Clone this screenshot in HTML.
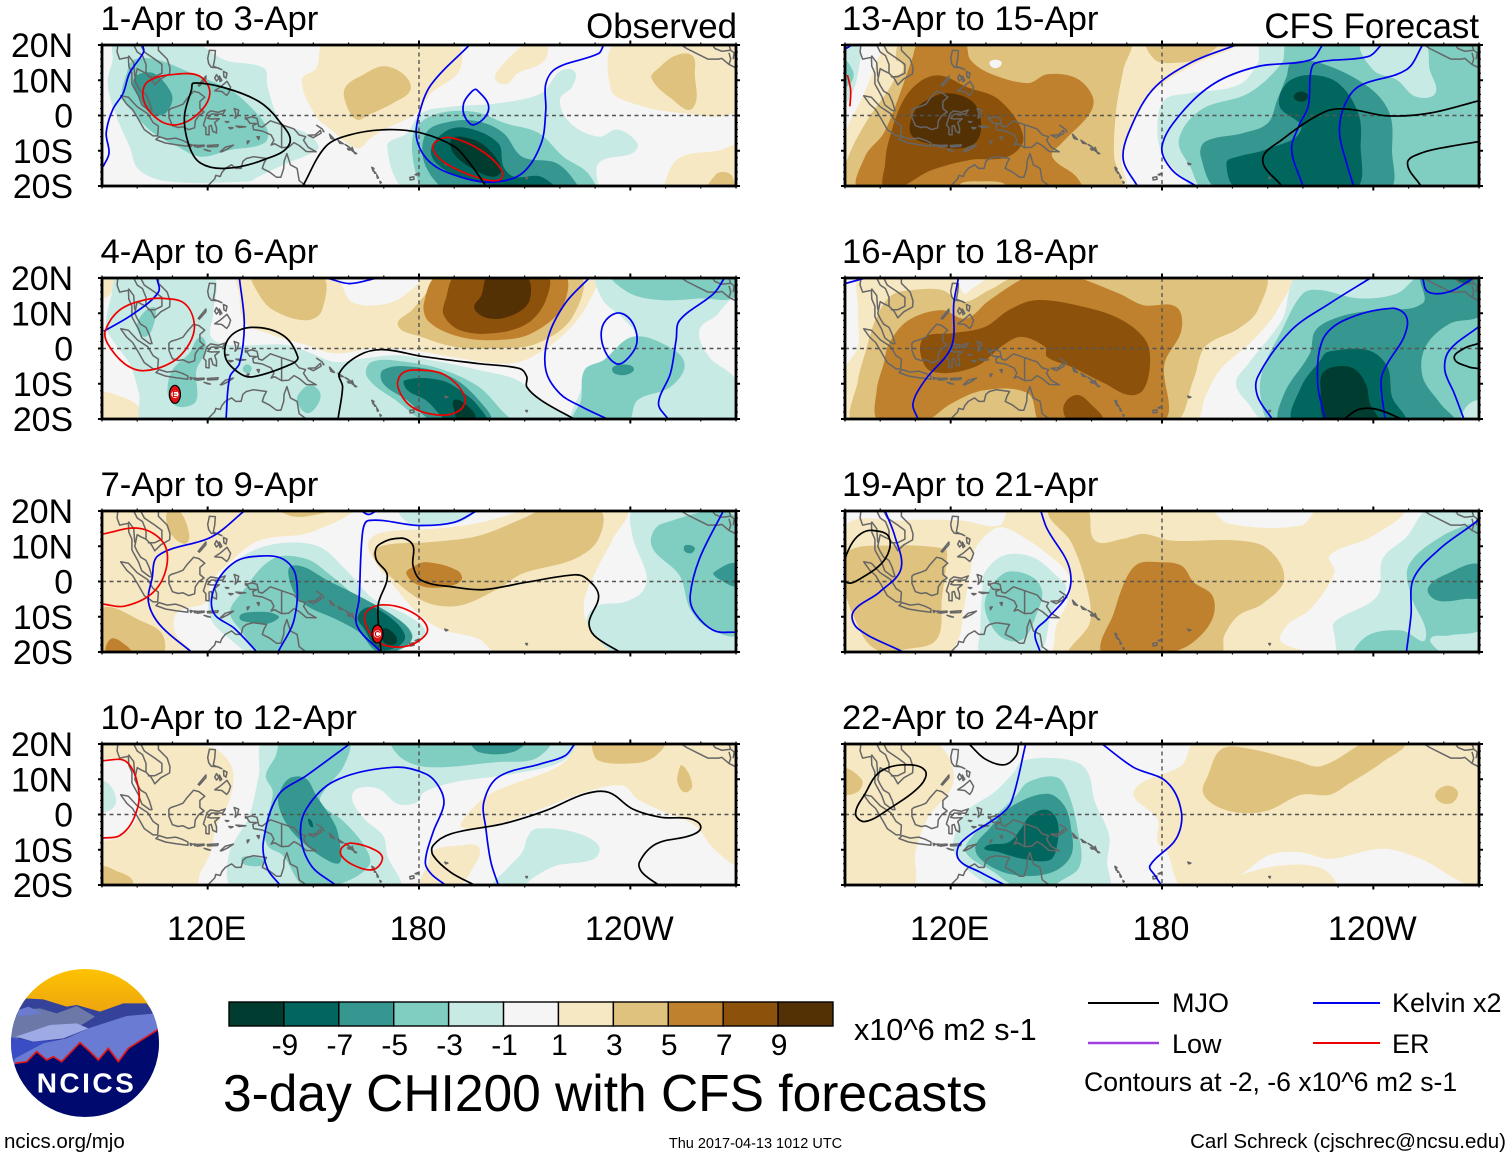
<!DOCTYPE html>
<html lang="en">
<head>
<meta charset="utf-8">
<title>3-day CHI200 with CFS forecasts</title>
<style>
html,body{margin:0;padding:0;background:#fff}
svg{display:block}
text{font-family:"Liberation Sans",Arial,sans-serif;fill:#000}
</style>
</head>
<body>
<svg id="chart" xmlns="http://www.w3.org/2000/svg" width="1510" height="1158" viewBox="0 0 1510 1158">
  <rect width="1510" height="1158" fill="#fff"/>
  <g id="panels"></g>
  <text x="737" y="38" font-size="34.8" text-anchor="end">Observed</text>
  <text x="1479" y="38" font-size="34.8" text-anchor="end">CFS Forecast</text>
  <g id="colorbar"></g>
  <text x="854" y="1040" font-size="30.6">x10^6 m2 s-1</text>
  <text x="223" y="1111" font-size="51.5">3-day CHI200 with CFS forecasts</text>
  <g>
    <line x1="1088" y1="1003" x2="1159" y2="1003" stroke="#000" stroke-width="2"/>
    <text x="1172" y="1012" font-size="27">MJO</text>
    <line x1="1088" y1="1043" x2="1159" y2="1043" stroke="#a040e0" stroke-width="2.4"/>
    <text x="1172" y="1053" font-size="27">Low</text>
    <line x1="1313" y1="1003" x2="1380" y2="1003" stroke="#0000ee" stroke-width="2"/>
    <text x="1392" y="1012" font-size="27">Kelvin x2</text>
    <line x1="1313" y1="1043" x2="1380" y2="1043" stroke="#ee0000" stroke-width="2"/>
    <text x="1392" y="1053" font-size="27">ER</text>
    <text x="1084" y="1091" font-size="26.6">Contours at -2, -6 x10^6 m2 s-1</text>
  </g>
  <text x="4" y="1148" font-size="20.5">ncics.org/mjo</text>
  <text x="755.5" y="1148" font-size="14.5" text-anchor="middle">Thu 2017-04-13 1012 UTC</text>
  <text x="1506" y="1148" font-size="20.5" text-anchor="end">Carl Schreck (cjschrec@ncsu.edu)</text>
  <g>
    <linearGradient id="logoSky" x1="0" y1="0" x2="0" y2="1"><stop offset="0" stop-color="#ffc400"/><stop offset="1" stop-color="#eda410"/></linearGradient>
    <clipPath id="logoClip"><circle cx="85" cy="1043" r="74"/></clipPath>
    <g clip-path="url(#logoClip)">
      <g transform="translate(0,960) scale(0.33333)">
        <rect x="20" y="20" width="480" height="140" fill="url(#logoSky)"/>
        <path d="M75 115 L130 118 L200 140 L230 135 L300 155 L370 130 L440 130 L490 200 L490 320 L20 320 L20 200 Z" fill="#34429a"/>
        <path d="M25 185 L60 150 L120 145 L170 160 L230 138 L285 170 L240 198 L100 218 L25 245 Z" fill="#6c78a8"/>
        <path d="M40 155 L85 140 L130 160 L60 168 Z" fill="#6a7bd0"/>
        <path d="M25 230 L100 245 L175 240 L100 285 L45 310 L25 300 Z" fill="#3a4dc4"/>
        <path d="M265 205 L380 168 L470 160 L490 210 L360 310 L40 315 L45 295 L130 250 L200 235 Z" fill="#6a7bd4"/>
        <path d="M48 230 L150 195 L230 190 L265 205 L190 235 L100 245 Z" fill="#9eaae4"/>
        <path d="M45 310 L80 305 L110 275 L140 300 L160 290 L185 305 L240 248 L270 275 L295 300 L325 265 L355 305 L385 265 L475 208 L490 480 L20 480 Z" fill="#000a6e"/>
        <path d="M45 310 L80 305 L110 275 L140 300 L160 290 L185 305 L240 248 L270 275 L295 300 L325 265 L355 305 L385 265 L475 208" fill="none" stroke="#e01818" stroke-width="5"/>
      </g>
    </g>
    <text x="86.5" y="1092.5" font-size="28" font-weight="700" letter-spacing="2.5" text-anchor="middle" style="fill:#fff">NCICS</text>
  </g>
</svg>
<script>
// Colour scale: contour bands from below -9 up to above 9
const bandColors = ['#003c30','#01665e','#35978f','#80cdc1','#c7eae5','#f5f5f5','#f6e8c3','#dfc27d','#bf812d','#8c510a','#543005'];
const colorbarLabels = ['-9','-7','-5','-3','-1','1','3','5','7','9'];
const panelTitles = ['1-Apr to 3-Apr','4-Apr to 6-Apr','7-Apr to 9-Apr','10-Apr to 12-Apr','13-Apr to 15-Apr','16-Apr to 18-Apr','19-Apr to 21-Apr','22-Apr to 24-Apr'];
const latTicks = [20,10,0,-10,-20];
const latTickLabels = ['20N','10N','0','10S','20S'];
const lonTicks = [120,180,240];
const lonTickLabels = ['120E','180','120W'];
const lineColors = {mjo:'#000000',kelvin:'#0000ee',er:'#ee0000'};

// Filled bands: [band index, [lon,lat,lon,lat,...]] painted in order
const fillsApr1 = [
[6,[153.5,21,190,21,191.6,13,183.4,6.3,179.4,0.7,170,-4,165.7,-6.9,163,-9.3,159,-7.4,155,-4,150.8,-0.3,146.7,10,150.8,13.4]],
[7,[170,14,175.6,11.7,177.6,7.3,172.6,3.5,165.7,0.2,162.4,-1.2,159.6,2.5,159,7.8,164.4,11.7]],
[6,[210.6,20.5,216,21,215.4,15.4,208,12,205,9,201.8,10,202.5,13]],
[6,[236.5,21,234.5,7.3,240.6,3.5,254,0.7,271,1.6,271,14,268,21]],
[7,[252.8,17,257.6,17,258.3,12,257.6,2,251.4,5,246,10.6,248,13.4]],
[6,[250,-18.4,254,-12,265,-10,271,-9,272,-22,250,-22]],
[7,[266.5,-16,269,-17.4,269,-22,262,-22,264,-17]],
[4,[93.7,21,115.4,21,125,15.7,136,13.4,137,8.2,141,-2,148,-5,151.5,-8.8,149.4,-10.7,142.6,-13.5,134.5,-17.3,131.8,-18.7,108.6,-18.7,100.5,-15.4,97.8,-8.8,93.7,0.7,91.6,9.2,93,15.8]],
[3,[99,15.8,105.7,15.8,115.4,12,126.3,7.3,133,1.6,137,-4.1,136,-7.9,126.3,-9.8,118,-11.7,111.4,-8.8,104.6,-5,99,0.7,95.7,5.4,97,12]],
[2,[100,11.5,104.6,12,108.6,8.2,110,4.4,107.3,0.2,103.2,1.1,100.5,5.4,98.8,9.2]],
[4,[176.6,-5,180.7,0.7,189,2.5,202.5,3.5,214.7,6.3,220,12.5,224.2,12.5,223.5,8.2,220,4.4,223,-2.2,231,-6,236.5,-4,242,-7.9,240.6,-10.7,231,-13.5,229.7,-22,178,-22,171,-8.8]],
[3,[179.4,-3,186,0.7,196,1,204.5,-2.2,214,-5,221,-11.7,228,-16.4,229.7,-22,182,-22,179.4,-17.4,178,-8.8]],
[2,[182,-5,189,-1.7,197,-1.7,204,-5,209.3,-11.7,219,-13.5,224.7,-19.3,225,-22,190,-22,182,-14.6]],
[1,[187.5,-4.5,194,-3.6,202.5,-7.9,204,-14.5,207,-17.4,214.7,-17.4,219,-22,198.4,-19.3,189,-16.4,183.4,-10.7]],
[0,[189.6,-6.4,195.6,-6.9,200,-9.8,203.4,-15.4,201,-17.4,194.4,-14.6,189.6,-10.4]]
];
const linesApr1 = [
['kelvin',0,[101.5,20,101.8,18,97.8,12,96,6.3,93,1.6,91.2,-5,92,-10.7,90.3,-14.5]],
['kelvin',0,[194.3,20,183.4,8.7,180,0.2,179.4,-6.9,183.4,-13.5,191.6,-17.4,201,-18.9,209.3,-16.4,214.7,-7.9,216,1.6,216,9,219,13.4,231,17.6,232.4,20]],
['kelvin',1,[196.4,7.3,199.8,2,195.7,-2.6,193,-0.3,192.7,3.5,195,6.8]],
['er',1,[112,11.8,118,11,120.6,6.3,117.5,0.7,111.4,-2.6,106,-1.2,101.8,4.4,103,9.6]],
['er',1,[189,-6.3,197.4,-9.8,203.4,-15.4,202.8,-18.3,196,-17.4,187.5,-13.5,184,-9.7,184.8,-7.4]],
['mjo',1,[116,9.2,125,7.8,134.5,4,140,-1.2,143.3,-7.9,135.8,-12.6,125,-15,118,-13.5,114.8,-8.8,113.4,-0.3,115.4,7.3]],
['mjo',0,[147,-20,153.5,-8.8,160.3,-5.5,171,-4,180.7,-5,190,-8.8,194.4,-13.5,199,-20]]
];

const fillsApr4 = [
[6,[129,21.3,230,21.3,228,12.8,221.5,4.3,212,-2.4,205,-4.3,191.6,-2.8,178,-0.5,167,0,156,-1.4,148,1,137,4.3,130.4,7.6,129,14.7]],
[5,[157.6,20.8,180,20.8,175.3,14.7,168.4,12.3,161,13.2,158.3,17.5]],
[6,[89,-13,95,-13.5,100.5,-16.5,102,-21,89,-21]],
[6,[89,21,94,21,92,15,89,15]],
[7,[133,21,152,21,152.5,10.9,148,8,138.6,10.9,134.4,15.6]],
[7,[185.5,21,225,21,223.6,9,213.4,1.4,201,0,190,0.5,180.7,3.3,174,6.6,178,10.9,182,15.6]],
[8,[186,21,220.7,21,220.7,11.8,212,4.3,202.5,2.4,191.6,3.3,182.8,7.6,181.4,12.8]],
[9,[191,21,216,21,216,13.7,210.6,7,201,4.3,191.6,5.2,187,9.5,187.5,13.7]],
[10,[200,21,210,21,211.4,13.7,206.6,9.5,200,8.5,195.7,11.4,197.7,15]],
[4,[95,21,120.9,21,121.6,10,121,3.3,126.3,1,142.6,1,149.4,-1.4,156.2,-3.8,164.4,-2.8,174,-1.9,186,-3.8,197,-6.1,208,-9,214.7,-14.7,224,-21,101.8,-21,100.5,-12.8,97.8,-4.3,93.7,1.4,91.2,6.1,92.6,14.7]],
[4,[231,21,271,21,265,10,259.6,5.2,262.4,-2.4,270,-9,271,-21,224,-21,225.6,-12.8,229,-7,238,-3,241.8,3,238,8.5,232,14]],
[3,[235,21,270,21,270,14.7,260,14.2,249.3,13.7,240,15.6]],
[3,[240.6,3.3,250,1,255.4,-4.3,251.4,-10.9,242,-14.7,239,-21,224,-21,226,-14.7,227,-6.1,232.4,-3.3]],
[2,[238.2,-4.5,241,-5.7,239,-7.4,235.5,-7.1,235,-5.4]],
[3,[104.5,11.8,105,8,102.2,3.3,100,7]],
[3,[118,3.3,119.5,-0.5,116.8,-6.1,116.8,-14.7,113.4,-16.6,110,-15.6,108.6,-11.8,110,-6.1,114.8,-1.4]],
[3,[149.4,-10.4,152,-12.8,150.8,-16.6,148,-18.3,145.4,-14.7,146.7,-11.8]],
[3,[131,-4.5,132.5,-5.5,131.5,-7,130,-6]],
[3,[166.6,-3.8,176.3,-3.8,187,-6.1,197,-10.9,203.4,-17.5,206,-21,183,-21,173.4,-14.7,165.2,-8]],
[2,[169.8,-6.1,178,-5.2,189,-8,197,-14.7,200,-21,185,-21,176.6,-14.7,169.8,-9.9]],
[1,[176,-9,186.2,-9,193,-12.8,197,-16.6,199,-21,189,-21,182,-14.7,176.7,-11.8]],
[0,[190,-14.7,193,-15.6,196,-20,191.6,-21,190,-17.5]]
];
const linesApr4 = [
['kelvin',0,[129,20,130.4,7,129,-4.3,126.3,-8,125.2,-20]],
['kelvin',0,[154,20,160.3,18.4,168,20]],
['kelvin',0,[90.5,4.9,99,9.9,106,16,105.6,20]],
['kelvin',0,[228.3,20,221.5,12.8,216.7,3.3,216,-6.1,220,-12.8,226.3,-16.6,233.5,-20]],
['kelvin',1,[237.4,10,240.8,7,241.8,1.4,238.8,-3.3,236,-4.3,232.7,-0.5,231.8,5.2,234,9]],
['kelvin',0,[266.7,20,263.7,15.6,254,8,253,2.4,251.4,-7,248,-15.6,250.7,-20]],
['er',1,[107.3,14.2,113.4,12.8,116.2,7,114.8,1.4,110,-3.8,101.8,-6.3,96.4,-4.3,91.6,1.4,91,5.2,95,10.9,101.8,13.7]],
['er',1,[180,-6.1,187.5,-7.6,193,-13.7,191.6,-17.5,186,-18.9,178,-16.6,174,-10.9,175.3,-7]],
['mjo',1,[132.4,6,141.3,3.8,145.6,-2.4,144,-4.3,133,-8,129,-7,125,-2.4,126.3,3.3]],
['mjo',0,[157,-20,158.3,-10.9,157.4,-7,163,-1.9,169.8,-0.3,180.7,-2.2,197,-4.3,208.6,-5.7,210.6,-8,210.6,-10.9,214.7,-14.7,224,-20]]
];

const fillsApr7 = [
[6,[89,21,160.3,20.6,149.4,14,134.5,11.6,126.3,5.5,121,-0.2,119.5,-5.9,111.4,-8.7,110.7,-14.4,114.8,-20.5,89,-21]],
[7,[108.6,20,112,20,114.8,13,113.4,10.7,109.3,14]],
[7,[89,-8,101.8,-11.5,107.3,-15.3,106.6,-21,89,-21]],
[8,[92.3,-16.4,95.7,-17.3,98.4,-21,91.6,-21]],
[7,[140.6,20.5,155,20.5,149.4,18.7,144,18.5]],
[6,[170,14,183.4,14.9,195.7,16.4,206.6,19.2,210.6,20.6,238.5,20.6,235,12,231,4.5,227,-5,227.6,-11.5,233.8,-20.5,202.5,-20.5,197,-16.3,186,-13.4,179.4,-8.7,172,-0.2,167,6.4,165.7,11.2]],
[7,[214.7,20,231,20.5,231,12.1,224.2,6.4,209.3,2.2,202.5,-2,191.6,-6.8,182,-5.9,172.6,0.8,167,7.4,169.8,10.2,183.4,11.2,197,13,209.3,17.8]],
[8,[182,5.5,191,3.1,192,0.3,187,-1.6,180,-1.1,176.4,2.2,178,4]],
[4,[126.3,4.5,137,10.2,150.8,10.2,159,3.6,167,-4.9,176.6,-9.6,182,-14.4,178.7,-17.2,171,-20.5,133,-20.5,126.3,-16.3,120.9,-10.6,120.9,-3]],
[3,[138.5,6.4,148,6.4,155,1.7,164.4,-5.9,175.3,-11.5,178,-16.3,171,-20,143,-20.5,134.5,-19.6,129,-13.4,126.3,-8.7,129,-4]],
[2,[144,4.5,155,-0.2,164.4,-4.9,174,-10.6,178,-15.3,176,-18.6,168.4,-20,163,-14.4,156.2,-10.6,148,-6.8,144,-2]],
[2,[131.8,-8.7,140,-9.7,137,-12,131.8,-11.6,129,-10.2]],
[1,[165.7,-7.3,171,-9.6,176,-15.3,173.7,-18.6,168.4,-19,164.4,-13.4,162.6,-10]],
[0,[169.8,-13.4,173.3,-15.3,173.3,-17.7,170,-17.2]],
[4,[174.6,20.5,195.7,20.5,191.6,16.8,180.7,15.9,176,17.3]],
[4,[241.3,20.6,240.6,13,244.6,1.7,243.3,-3,238,-5.9,231,-6.8,227.6,-10.6,229.7,-15.3,236.5,-20.5,272,-21,272,21]],
[3,[249,16.4,271,17.3,271,-14.4,262.4,-13.4,257,-7.8,254,1.7,246,10.2]],
[2,[255.5,10.2,258.2,9.7,257.5,8.1,255.5,8.5]],
[2,[263.7,2.6,271,5,271,-1.1,265,0.8]]
];
const linesApr7 = [
['kelvin',0,[130.4,20,121,12.6,106,7.4,104.2,0.8,103.2,-5.9,106.6,-12.5,115.4,-20]],
['kelvin',0,[140,-20,144.6,-10.6,145,1.7,141.3,6.4,134.5,7.2,127.7,5.5,122.2,-1.1,121.6,-8.7,127.7,-13.4,134,-20]],
['kelvin',0,[169.2,-20,162.4,-12.5,163,-4.9,164,14,165.7,17.3,180,15.9,190,16.8,196.3,20]],
['kelvin',0,[163.7,20,165.7,19,167.8,20]],
['kelvin',0,[266.4,20,259.6,6.4,257,-4,258.2,-8.7,263.7,-13.9,270,-14.4]],
['er',0,[90.3,13.5,100.5,15.1,107.3,11.2,108.4,4.5,104.6,-3,96.4,-7,90.3,-6.4]],
['er',1,[169.8,-6.6,178,-8.7,182.4,-13.4,179.4,-17.2,174,-18.6,168.4,-17.2,165,-12.5,165,-8.7]],
['mjo',0,[169.2,-20,168.4,-6.8,171,1.7,167.8,6.4,168.4,10.2,175,12.3,178.3,10.2,178.3,4.5,180.7,0.3,190,-1.6,198.4,-2.3,210.6,-0.2,224.2,1.9,227.6,0.8,231,-4,228.3,-11.5,229.7,-15.3,237,-20]]
];

const fillsApr10 = [
[6,[89,21,110.7,21,115.4,19.6,122.2,18.6,127,13,126.3,4.4,122.2,-4,120.9,-10.7,118,-16.4,116,-21,89,-21]],
[5,[90,15.8,97,14.9,100.5,6.3,99.8,-1.2,95,-6.4,90,-7.4,88,-7,88,15]],
[4,[90,9.2,93,7.3,93.7,2.6,90,1.1]],
[7,[89,-15,95,-16.4,98.7,-18.7,97.8,-21,89,-21]],
[6,[225,21,270.5,21,270.5,-13.5,263.7,-9.7,258.2,-3,248.7,1.1,242,4.4,237.8,8.2,227,6.3,214.7,1.6,202.5,-2.6,192.3,-3.6,194.3,0.7,201,6.3,217.4,12.5,222.2,15.8]],
[7,[229.7,21,249.4,21,246,15.8,237.8,14.4,231,15.3,229.4,17.7]],
[7,[254.8,13.9,257.6,8.2,255.5,6.3,253.5,8.7,253.5,11.5]],
[6,[184,-10.2,191.6,-8.8,197,-9.3,195.7,-14.5,190.2,-21,180.7,-21,182.8,-13.5]],
[4,[136.5,21,224,21,221,15.3,206.6,11.5,190.2,9.2,181.4,6.3,179.4,3.5,174,3,168.5,7.3,162.4,7.3,161,4.4,164.4,-1.2,169.8,-6,171,-11.6,174,-21,127.7,-21,126,-11.6,131.8,-0.3,134.5,11]],
[3,[141.3,21,159.6,21,158.7,13.9,153.5,7.3,152,3.5,158.3,-1.7,164.4,-8.8,165.8,-14.5,156.2,-20.2,148,-21,141.3,-11.6,137,-8.8,136.5,-3,138.5,6.3,136.5,11,139.2,16.3]],
[3,[130,-12,136,-12.8,135.5,-14.5,130,-14]],
[2,[144,10.6,148,10.1,150.8,5.4,156.2,-3,157.6,-8.8,157.6,-13.5,155,-13.5,148,-8.8,142.6,-3,140,3.5,141.3,8.2]],
[1,[148.8,-1.2,150,-3.5,149,-3.2]],
[3,[172.5,21,217,21,213,15.8,202.5,14.9,183.4,13.4,175.3,15.8]],
[2,[195,21,210,21,206.6,17.7,197,17.7]],
[4,[213.4,-4,224,-5,231,-8.8,229.7,-12.6,219,-14.5,213.4,-17.3,208,-21,201,-21,205,-15.4,209.3,-10.7,211,-6]]
];
const linesApr10 = [
['kelvin',0,[160.3,20,148,11,140,5.4,135.8,-7.9,137,-15.4,140.5,-20]],
['kelvin',0,[156.3,-20,149.4,-14.5,146.4,-6,148,1.6,156.2,9.6,172.6,13.4,182,11.5,186,7.3,187,2.6,184,-5,181.8,-13.5,183.4,-16.8,187.5,-20]],
['kelvin',0,[202.5,-20,200.4,-13.5,199,-4,198.4,3.5,202.5,10.6,214.7,14.4,221.5,16.7,224.2,20]],
['er',0,[90,15.3,97,14.9,100.5,6.3,99,-1.2,95,-6,90,-6.7]],
['er',1,[161,-8.1,167.8,-10.2,169.6,-12.6,167,-15.6,161.7,-14.5,157.9,-11.6,158.2,-9.3]],
['mjo',0,[195.7,-20,189,-16.4,184,-11.6,184,-8.8,189,-5.5,204,-2.6,216,1.1,227,5.8,233.8,6.3,240.6,1.6,248.7,-0.8,257,-1.2,260,-3.6,257,-6,247.4,-8.3,242.6,-13.5,243.3,-16.4,248,-20]]
];

const fillsApr13 = [
[6,[88,21,201.8,21,188,13.9,176,5.4,170.5,-5,168.5,-12.6,169,-21,88,-21]],
[5,[99.8,21,98.4,13.9,95,5.4,91.6,-1.2,89,-5,86,5,86,21]],
[4,[88,21,93.7,21,93.7,12,91.6,5.4,89,2.5]],
[3,[89,15.8,92.3,12.5,91.6,9.2,89,8.2]],
[7,[176,21,195.7,21,191,16.3,182.8,14.9,178,15.8]],
[7,[106.6,21,170.5,21,169,13,167,1.6,166.4,-11.6,167.8,-21,89,-21,91,-11.6,96.4,-1.2,103.9,10.1]],
[6,[103,15,106,15,106,12,103,12]],
[5,[132.7,15.8,134.5,14.9,132.7,13.4,131,14.9]],
[8,[111.4,21,123.6,21,125.6,15.8,131,12,142,9.2,147.4,11.7,155.6,10.6,160.3,5.4,159.6,0.7,151.5,-7.9,148.8,-11.6,155.6,-17.3,157,-21,94.3,-21,95.7,-11.6,101,-5,105.3,5.4,109,15.8]],
[7,[123,-19.2,128.4,-18.7,135,-19.2,135,-21,123,-21]],
[9,[117.5,11.3,124.3,8.2,133.8,4.4,140.6,-6,136.5,-11.6,125.6,-12.6,114.8,-15.4,101.8,-21,101.4,-13.5,102.5,-6.9,106.6,4.4,112,10.1]],
[10,[118.8,6.3,125.6,4.4,128.4,-0.3,127.7,-6.9,123,-9.3,113.4,-7.9,108.6,-5,110,1.6,113.4,4.4]],
[4,[208.6,21,207.2,14.9,201.8,8.7,188,6.3,180.7,4.4,178.7,-3,180,-10.7,185.5,-17.3,190,-21,271,-21,271,21]],
[3,[216,21,214,14.9,204.5,6.3,191,1.6,184.8,-6.9,188,-14.5,192.3,-21,271,-21,271,21]],
[4,[237,21,254,21,256,13,257.6,6.3,252,5.4,246.7,10.1,239.9,13]],
[2,[216.8,14.9,224.9,14.9,238.5,8.2,244.6,0.7,245.3,-9.7,244,-21,196.4,-21,191,-11.6,192.3,-7.4,203,-5,210,-2.2,212.7,4.4,215.4,11.1]],
[1,[222,11.5,230,9.2,235.7,0.7,236.4,-7.9,234.4,-21,201.8,-21,198.3,-13.5,201.8,-11.6,209.3,-9.7,219.5,-4,213.4,2.6,215.4,9.2]],
[0,[219.5,6.8,221.5,5.4,219.5,3.9,217.4,5.4]]
];
const linesApr13 = [
['er',0,[90.7,11.5,91.6,7.3,91.4,2.6]],
['kelvin',0,[90.3,19,91.9,20]],
['kelvin',0,[201,20,188,14.9,177.3,7.3,170.5,-5,169,-12.6,173,-20]],
['kelvin',0,[225.6,20,222.2,15.8,207.2,13.9,195,9.2,185.5,0.7,180,-8.8,182.8,-15.4,189.6,-20]],
['kelvin',0,[242.3,20,238.5,16.7,223.6,14.9,222.2,12,221.5,2.6,218.8,-3.1,216.8,-9.7,220,-20]],
['kelvin',0,[254,20,249.4,13,235.8,8.2,231.7,2.6,230.4,-5,232.4,-13.5,234.4,-20]],
['mjo',0,[214,-20,208.6,-12.6,214,-6.9,226.3,1.1,233,1.8,244,-0.1,256.2,0.7,270,4.2]],
['mjo',0,[253.5,-20,249.7,-13.5,253.5,-10.7,261.6,-8.8,270,-7.4]]
];

const fillsApr16 = [
[6,[95,21,216,21,212.7,10.9,205.9,2.4,196.4,-6.1,192.3,-13.7,188.9,-21,89.6,-21,90,-6,93.7,0.5,93.7,10.9]],
[5,[122.9,21,129.7,21,125.6,16.6,123.6,15.6]],
[7,[109.3,16.6,117.5,16.6,123.6,13.2,131,16.6,140.6,21,208.6,21,207.2,10.9,201.8,5.7,192.3,0.5,188.9,-9,182.8,-21,93,-21,93.7,-9,95.7,-1.4,99,9,103.2,15.1]],
[8,[102.5,1.4,108,8,117.5,10.9,124.3,8.5,131,13.7,143.3,21,152.8,21,167.8,15.6,174.6,12.3,184,11.8,185.5,5.2,180.7,-4.3,179.8,-21,146,-21,142,-12.8,129.7,-11.8,120.2,-15.6,112,-21,99.8,-21,99,-11.8,101,-4.3]],
[9,[144,13.7,155.6,12.3,167.8,8.5,175.3,2.4,176.6,-4.3,174.6,-11.8,170.5,-13.2,163.7,-9.9,154.2,-5.2,147.4,-2.4,146.7,0.5,140,3.3,135,1,127,-5.2,114.8,-6.6,111.4,-1.4,112.7,3.3,120.2,4.3,129.7,6.1,136.5,10.9]],
[9,[155.6,-13.2,159.6,-15.6,163,-21,154.2,-21,152,-16.6]],
[4,[219.5,21,214,8,204.5,-4.3,201,-9.9,204.5,-15.6,210,-21,271,-21,271,21]],
[3,[220,15.6,224.9,16.6,235.8,14.2,246.7,15.6,254,21,271,21,271,-21,211.3,-21,208,-13.7,208.6,-6.1,214,5.2]],
[4,[270,-14.7,272,-22,265,-21]],
[2,[254,21,271,21,271,10,261.6,7,254.8,0.5,254,-8,259,-15.6,263,-21,214,-21,214.7,-12.8,222,-1.4,223.6,5.2,230.4,9,240,10.9,254,12.8]],
[1,[227,-1,238.5,-0.5,244,-5.2,245.3,-13.7,248.7,-21,217.8,-21,219.5,-10.9,225,-3.3]],
[1,[262.5,21,268,21,267,18.4,264,19]],
[0,[229,-5.2,234.4,-5.7,237.8,-9.9,239,-15.6,241,-21,227,-21,225,-10.9,225.6,-7]]
];
const linesApr16 = [
['kelvin',0,[122.2,20,120.9,12.8,120.2,0.5,112.7,-9,109.3,-15.6,110.7,-20]],
['kelvin',0,[90,18.4,95.7,20]],
['kelvin',0,[239.2,20,227.6,12.8,216.7,5.2,207.2,-8,207.2,-13.7,211.3,-20]],
['kelvin',0,[226.3,-20,224.2,-9.9,225.6,2.4,231.7,8,245.3,11.4,249.4,9,248.7,3.3,244,-4.3,242.2,-9,243.3,-20]],
['kelvin',0,[254,20,255.5,16.1,261.6,16.1,268.4,20]],
['kelvin',0,[269.8,6.1,261.6,-0.5,260.3,-6.1,263,-12.8,265.7,-20]],
['mjo',0,[231.7,-20,235.8,-17.3,241.2,-17.3,248,-20]],
['mjo',0,[269.8,1.4,265.7,0,263,-2.8,267,-5.2,269.8,-5.7]]
];

const fillsApr19 = [
[6,[89.6,15,106.6,17.3,122.9,17.3,133.8,15.9,137.2,21,192.3,21,199,16.4,219.5,15.9,225,21,248,21,240,13,227.6,7.4,229,2.6,222.2,-7.8,215.4,-12.5,214,-17.2,225,-21,88,-21]],
[5,[134.5,15.4,140,13,147.4,7.9,153.5,1.7,153.5,-4.9,150,-12.5,147.4,-21,121.6,-21,122.9,-14.4,123.6,-8.7,125.6,2.6,127,9.3,131,14]],
[4,[135.2,7.4,143.3,6.9,150,1.7,152.8,-2,148.7,-8.7,144.6,-20.5,129,-21,128.4,-13.4,129,-2,129.7,2.6]],
[3,[136.5,2.8,143.3,1.2,146,-3,144.6,-8.7,140.6,-16.3,135.2,-16.3,131,-11.5,129.7,-5.9,132.4,-0.2]],
[7,[147.8,21,158.3,21,161,11.6,169,12.1,174.6,13.5,182.8,11.6,201.8,11.6,210,9.3,214.7,0.8,208.6,-6.3,201.8,-9.6,197.7,-15.3,196.4,-21,154.2,-21,159.6,-11.5,158.3,-0.2,154.2,11.2]],
[8,[178.7,5.5,185.5,4.5,189,-0.2,194.3,-4,194.3,-10.6,188.9,-17.2,182.8,-20,173,-21,163,-21,166.4,-8.7,169.8,0.8,173.2,5]],
[7,[89.9,7.9,103.9,10.2,118.3,9.3,119,7.4,117.5,-4.9,116.1,-16.3,108,-19.1,98.4,-19.1,92.3,-9.6,90,-2]],
[4,[256.2,21,249.4,12.6,242.6,6.4,241.2,-4,229,-11.5,229,-15.3,231,-21,272,-21,272,21]],
[3,[270,17.3,259,12.6,250,4.5,250.7,-4,254.8,-16.3,248,-13.9,238.5,-15.3,235,-21,259,-21,256.2,-16.3,261.6,-15.3,271,-12.5,271,17.3]],
[2,[271,4.5,261,2.2,255.5,-2,258.2,-5.4,266.4,-4.9,271,-4]]
];
const linesApr19 = [
['mjo',1,[97.8,14.5,102.5,12.6,101.4,6.4,95,1.2,90.3,-0.2,89.6,4.5,91.6,10.2,94.4,13.5]],
['kelvin',0,[101.4,20,104.1,13,105.9,3.6,99.8,-3,92.3,-8.7,93.7,-13.4,106.5,-20]],
['kelvin',0,[145.6,20,147.4,14.9,153.5,4.5,153.5,-3,147.4,-10.6,144,-14.4,145.4,-20]],
['kelvin',0,[271,19,269,16.8,258.9,9.3,251.4,0.8,250.7,-9.6,249.4,-20]]
];

const fillsApr22 = [
[6,[88,21,114.5,21,120.9,10,113.4,-1.2,110,-10.7,108.6,-21,88,-21]],
[7,[88,13,94.7,10,93.4,6.3,88,6.3]],
[6,[190,21,271,21,271,-21,186.8,-21,181.4,-10.7,178.7,-7.9,178.7,-1.2,171.9,5.4,174.6,9.2,185.5,13.9]],
[5,[199.8,-21,205.9,-14.5,211.3,-11.2,219.5,-10.7,227.6,-12.6,242.6,-9.7,253.5,-12.6,261.6,-17.3,267,-21]],
[6,[199.8,-18.3,213.4,-14.5,225.6,-15.4,229,-21,199.8,-21]],
[7,[197,18.6,205,18.6,218.1,15.3,225,13.7,235.8,19.6,237,21,248.7,21,242.6,14.9,233,8.7,227.6,5.6,219.5,5.6,210,1.1,201.8,0.5,195,2.6,191.6,6.3,193,11]],
[7,[261,8.2,264,6.3,262.4,3.3,259,3.5,257.6,5.9]],
[4,[140.6,15.3,151.5,15.8,158.3,13,161,3.5,165,-6,164.4,-13.5,164.4,-21,133.8,-21,125.6,-16.4,120.9,-10.7,120.9,-6.9,124.3,0.7,132.4,6.3,137.8,11.8]],
[3,[142,9.2,150,10.6,153.3,6.3,156,-4,156.7,-14.5,150.7,-19.2,147.4,-21,137.8,-20,132.4,-16.4,124.3,-10.7,126.3,-6,133.8,0.7,138.6,5.4]],
[2,[147.4,5.9,152.2,2.6,154.2,-4,154.2,-11.6,148.8,-16.4,139.2,-17.3,131,-14.5,127,-9.7,131,-4,137.8,2.6]],
[1,[147.4,1.3,150.4,-2.2,150,-9.7,148,-13,140.6,-12.6,133.8,-10.7,129.7,-9.3,136.5,-7.9,140,-4,142.6,-0.3]]
];
const linesApr22 = [
['kelvin',0,[141.3,20,137.2,3.5,133.8,-0.3,123,-7.9,122.2,-12.6,128.4,-16.4,135.4,-20]],
['kelvin',0,[163,20,171.9,13.4,181.4,9.2,185.5,0.7,184,-6.9,176.6,-14.5,178,-17.3,179.8,-20]],
['mjo',0,[125.2,20,129.7,15.8,135.2,14.1,138.6,16.7,139.3,20]],
['mjo',1,[106.6,14.1,112.7,12.5,111.4,8.2,102.5,1.6,95.7,-2,93,0.2,95.7,5.9,99.8,12]]
];

// Tropical cyclone symbols: [lon, lat, letter]
const cyclonesApr4 = [[110.7,-13,'E']];
const cyclonesApr7 = [[168.2,-14.9,'C']];

// Coastlines and borders as [closed flag, [lon,lat,...]]
const coastlines = [
[0,[94.5,20,94.3,18,95,16,97.5,16.5,97.6,14,98.5,12,98.5,9,99,8,100.4,5.5,101.3,3,103.5,1.4,104.2,1.4,103.4,4,102.5,6,101,6.9,100,8.5,99.3,10,100,13.3,101,12.7,102.5,12,104,10.5,105,8.7,106.7,10.4,109.2,11.8,109.3,13.5,108.5,16,106,18.5,106,20]],
[0,[97.5,17,99,15,99.3,11]],[0,[101,20,102,18,105,16,107,14.5,107,12,105,11,103,11]],[0,[99,20,100,18,101.5,17,102.5,14.5,102.5,12]],
[1,[95.3,5.6,97.5,5.2,100,2.5,103,0.5,104.5,-2,106,-3,105.8,-5.8,104.5,-5.8,102,-4,100.3,-1,98.7,1.7,97,3.2]],
[1,[105.3,-6.8,106.2,-6,108.5,-6.7,110.9,-6.4,112.7,-7,114.4,-7.8,114.4,-8.7,111,-8.3,108,-7.8]],
[1,[115,-8.2,115.7,-8.4,115.2,-8.8]],[1,[116,-8.4,116.7,-8.4,116.4,-8.9]],
[1,[116.8,-8.5,119,-8.4,119,-8.7,117,-9]],[1,[119.9,-8.5,123,-8.3,122.8,-8.8,120,-8.9]],
[1,[123.6,-10.3,125,-9,127.3,-8.4,126,-9.3,124,-10.3]],[1,[119,-9.6,120.8,-10.1,120,-10]],
[1,[109,1.5,109.6,2,111.5,2.6,113,3.2,114,4.6,116,6.9,117.5,6.5,119.2,5.2,117.8,4,117.8,2,119,1,117.5,0,116.5,-1.5,116.3,-3.5,114.6,-4,113,-3.2,111.6,-3.4,110,-2.9,109,-0.5]],
[1,[119.8,0.5,120.8,1.3,123,0.9,125,1.6,124.3,0.4,121,0.4,120,-0.8,121,-1,123.3,-0.9,122,-2,122.5,-3.5,122.5,-5,121.5,-4.5,121,-2.8,120.4,-3,120.4,-5.5,119.5,-5.4,119.5,-3.5,118.8,-2.7]],
[1,[120.5,18.5,122.2,18.4,122,16,121.6,14,124,13,123,13.5,121,13.7,120.3,14.7,120,16.2]],
[1,[122,7,123.5,8,125.5,9.7,126.5,8,126,6.5,125.4,5.7,124,6.8]],
[0,[117.2,8.4,119.5,11.2,119.5,10.4,117.5,8.2]],[1,[122.5,11.6,123.2,10.5,122.5,9.8,122,10.6]],[1,[124.5,12.5,125.5,12,125.2,10.6,124.6,11]],[1,[123.3,11.2,124,10,123.5,9.6]],
[1,[127.5,2,128,0.5,127.8,-0.8,128.5,0,128.8,1.5]],[1,[128,-3,130.8,-3.2,129,-3.4]],[1,[126,-3.4,127.2,-3.5,126.5,-3.8]],[1,[125,-1.7,126,-1.8,125.5,-2]],[1,[130.7,-0.5,131.3,-0.9,130.7,-1]],[1,[134,-6,134.7,-6,134.5,-6.8]],[1,[131.2,-7.3,131.8,-7.2,131.3,-8]],
[1,[131,-0.8,132.5,-0.4,134,-0.8,134.5,-3,135.5,-3.3,137.8,-1.5,141,-2.6,144.5,-3.8,146,-5.5,147.8,-6,147.2,-7,148.5,-9,150.8,-10.3,148,-10.2,146,-8.5,144.5,-7.7,143,-9,141,-9.1,139,-8,138,-8.4,138.8,-7,138,-5.5,135.5,-4.4,133,-4,132.8,-2.8,134,-2.3,132,-2.2]],
[0,[141,-2.6,141,-9.1]],
[1,[148.5,-5.6,150.5,-5.5,152,-4.2,152.2,-5,150,-6.3]],[0,[150.8,-2.7,152.5,-3.8,153,-4.6,152.6,-4.4]],
[1,[154.6,-5.3,156,-6.8,155,-6.5]],[1,[157,-7,158.5,-8,157.5,-7.9]],[1,[159,-8.2,160.8,-9.5,160,-8.8]],[1,[159.7,-9.4,160.8,-9.8,160,-9.8]],[1,[161,-9,161.5,-10.3,161,-10]],[1,[161.5,-10.3,162.3,-10.8,161.8,-10.8]],
[1,[166.6,-14.7,167.2,-15,167,-15.8]],[1,[167.3,-15.9,167.8,-16.4,167.4,-16.4]],[1,[168,-16.8,168.5,-17.7,168.2,-17.8]],[1,[168.9,-18.7,169.3,-19,169,-19.2]],
[1,[177.4,-17.6,178.5,-17.4,178.6,-18.1,177.5,-18.3]],[1,[178.9,-16.8,180,-16.3,179.4,-16.9]],
[1,[187.3,-13.5,188.2,-13.8,187.6,-14]],[1,[210.3,-17.6,210.8,-17.6,210.6,-18]],
[0,[120,-20,122,-18,122.3,-17,123.6,-17.3,124,-16.2,125,-15,126.8,-14,128,-15,129.5,-15,130,-13,131,-12.2,133,-11.7,136.7,-12.2,136,-13.5,135.5,-15,137.5,-16,139.5,-17.5,140.8,-17.5,141.6,-15,141.7,-13,142.5,-10.8,143.5,-14,145.4,-15,146,-18.5,148,-20]],
[0,[254,20.5,254.5,20,256,19,259,17.5,262,16,265,16,266,16.2,268,14.5,270,13.5]],
[0,[263,20.5,264,19,266,18.2,268.5,18.5,268,20,269,21]],[0,[268,17.8,268.5,16,268,14.5]],[0,[268.5,18.5,269.5,17.8,269.2,16]]
];

const SVG_NS = 'http://www.w3.org/2000/svg';
const PANEL_W = 634, PANEL_H = 141;
const panelColumnX = [102,845];
const panelRowY = [45,278,511,744];

function xScale(lon, x0){ return x0 + (lon - 90) * PANEL_W / 180; }
function yScale(lat, y0){ return y0 + (20 - lat) * PANEL_H / 40; }

function toPoints(flat, x0, y0){
  const pts = [];
  for(let i = 0; i < flat.length; i += 2){ pts.push([xScale(flat[i], x0), yScale(flat[i+1], y0)]); }
  return pts;
}
// Smooth curve through the points; tangents are scaled by each segment's own length so long edges do not overshoot
function smoothPath(pts, closed){
  const n = pts.length;
  const at = i => closed ? pts[(i + n) % n] : pts[Math.max(0, Math.min(n - 1, i))];
  const unitTangent = function(i){
    const a = at(i-1), b = at(i+1);
    const dx = b[0]-a[0], dy = b[1]-a[1];
    const len = Math.hypot(dx, dy) || 1;
    return [dx/len, dy/len];
  };
  let d = 'M' + pts[0][0].toFixed(1) + ' ' + pts[0][1].toFixed(1);
  const last = closed ? n : n - 1;
  for(let i = 0; i < last; i++){
    const p1 = at(i), p2 = at(i+1);
    const t1 = unitTangent(i), t2 = unitTangent(i+1);
    const L = Math.hypot(p2[0]-p1[0], p2[1]-p1[1]) / 3;
    d += 'C' + (p1[0] + t1[0]*L).toFixed(1) + ' ' + (p1[1] + t1[1]*L).toFixed(1) + ' ' +
         (p2[0] - t2[0]*L).toFixed(1) + ' ' + (p2[1] - t2[1]*L).toFixed(1) + ' ' +
         p2[0].toFixed(1) + ' ' + p2[1].toFixed(1);
  }
  return d + (closed ? 'Z' : '');
}
function straightPath(pts, closed){
  return 'M' + pts.map(p => p[0].toFixed(1) + ' ' + p[1].toFixed(1)).join('L') + (closed ? 'Z' : '');
}
function make(tag, parent){
  const el = document.createElementNS(SVG_NS, tag);
  parent.appendChild(el);
  return el;
}
function tick(parent, x1, y1, x2, y2, width){
  const t = make('line', parent);
  
  
  t.setAttribute('x1', x1); t.setAttribute('y1', y1); t.setAttribute('x2', x2); t.setAttribute('y2', y2);
  t.setAttribute('stroke', '#000'); t.setAttribute('stroke-width', width);
}

const panelFills = [fillsApr1,fillsApr4,fillsApr7,fillsApr10,fillsApr13,fillsApr16,fillsApr19,fillsApr22];
const panelLines = [linesApr1,linesApr4,linesApr7,linesApr10,linesApr13,linesApr16,linesApr19,linesApr22];
const panelCyclones = [[],cyclonesApr4,cyclonesApr7,[],[],[],[],[]];

const root = document.getElementById('panels');
panelTitles.forEach(function(title, idx){
  const col = idx < 4 ? 0 : 1, row = idx % 4;
  const x0 = panelColumnX[col], y0 = panelRowY[row];
  const g = make('g', root);
  
  

  const clip = make('clipPath', g);
  clip.setAttribute('id', 'clip' + idx);
  const cr = make('rect', clip);
  cr.setAttribute('x', x0); cr.setAttribute('y', y0); cr.setAttribute('width', PANEL_W); cr.setAttribute('height', PANEL_H);

  const body = make('g', g);
  
  
  body.setAttribute('clip-path', 'url(#clip' + idx + ')');

  const bg = make('rect', body);
  
  
  bg.setAttribute('x', x0); bg.setAttribute('y', y0); bg.setAttribute('width', PANEL_W); bg.setAttribute('height', PANEL_H);
  bg.setAttribute('fill', bandColors[5]);

  panelFills[idx].forEach(function(f){
    const p = make('path', body);
    
    
    p.setAttribute('d', smoothPath(toPoints(f[1], x0, y0), true));
    p.setAttribute('fill', bandColors[f[0]]);
  });

  coastlines.forEach(function(c){
    const p = make('path', body);
    
    
    p.setAttribute('d', straightPath(toPoints(c[1], x0, y0), !!c[0]));
    p.setAttribute('fill', 'none');
    p.setAttribute('stroke', '#666');
    p.setAttribute('stroke-width', '1.5');
    p.setAttribute('stroke-linejoin', 'round');
  });

  const eq = make('line', body);
  
  
  eq.setAttribute('x1', x0); eq.setAttribute('x2', x0 + PANEL_W);
  eq.setAttribute('y1', yScale(0, y0)); eq.setAttribute('y2', yScale(0, y0));
  eq.setAttribute('stroke', '#555'); eq.setAttribute('stroke-width', '1.4'); eq.setAttribute('stroke-dasharray', '4 3.5');
  const dl = make('line', body);
  
  
  dl.setAttribute('x1', xScale(180, x0)); dl.setAttribute('x2', xScale(180, x0));
  dl.setAttribute('y1', y0); dl.setAttribute('y2', y0 + PANEL_H);
  dl.setAttribute('stroke', '#555'); dl.setAttribute('stroke-width', '1.4'); dl.setAttribute('stroke-dasharray', '4 3.5');

  panelLines[idx].forEach(function(l){
    const p = make('path', body);
    
    
    p.setAttribute('d', smoothPath(toPoints(l[2], x0, y0), !!l[1]));
    p.setAttribute('fill', 'none');
    p.setAttribute('stroke', lineColors[l[0]]);
    p.setAttribute('stroke-width', '1.7');
  });

  panelCyclones[idx].forEach(function(c){
    const cx = xScale(c[0], x0), cy = yScale(c[1], y0);
    const e = make('ellipse', body);
    
    
    e.setAttribute('cx', cx); e.setAttribute('cy', cy); e.setAttribute('rx', 5.5); e.setAttribute('ry', 9);
    e.setAttribute('fill', '#e01010'); e.setAttribute('stroke', '#000'); e.setAttribute('stroke-width', '1.2');
    const w = make('circle', body);
    
    
    w.setAttribute('cx', cx); w.setAttribute('cy', cy); w.setAttribute('r', 3.6);
    w.setAttribute('fill', '#fff');
    const t = make('text', body);
    
    
    t.setAttribute('x', cx); t.setAttribute('y', cy + 2.8); t.setAttribute('text-anchor', 'middle');
    t.setAttribute('font-size', '8'); t.setAttribute('font-weight', '700'); t.setAttribute('style', 'fill:#d00000');
    t.textContent = c[2];
  });

  const frame = make('rect', g);
  
  
  frame.setAttribute('x', x0); frame.setAttribute('y', y0); frame.setAttribute('width', PANEL_W); frame.setAttribute('height', PANEL_H);
  frame.setAttribute('fill', 'none'); frame.setAttribute('stroke', '#000'); frame.setAttribute('stroke-width', '2.8');

  for(let lon = 90; lon <= 270; lon += 10){
    const major = lonTicks.indexOf(lon) >= 0;
    const x = xScale(lon, x0);
    tick(g, x, y0 - (major ? 4.5 : 2.5), x, y0, major ? 2 : 1.2);
    tick(g, x, y0 + PANEL_H, x, y0 + PANEL_H + (major ? 4.5 : 2.5), major ? 2 : 1.2);
  }
  for(let lat = -20; lat <= 20; lat += 2){
    const major = lat % 10 === 0;
    const y = yScale(lat, y0);
    tick(g, x0 - (major ? 4 : 2), y, x0, y, major ? 2 : 1);
    tick(g, x0 + PANEL_W, y, x0 + PANEL_W + (major ? 4 : 2), y, major ? 2 : 1);
  }

  const tt = make('text', g);
  
  
  tt.setAttribute('x', col === 0 ? x0 - 1.5 : x0 - 3); tt.setAttribute('y', y0 - 15); tt.setAttribute('font-size', '34.7');
  tt.textContent = title;

  if(col === 0){
    latTicks.forEach(function(lat, i){
      const lb = make('text', g);
      
      
      lb.setAttribute('x', 73); lb.setAttribute('y', yScale(lat, y0) + 12); lb.setAttribute('font-size', '33.8');
      lb.setAttribute('text-anchor', 'end');
      lb.textContent = latTickLabels[i];
    });
  }
  if(row === 3){
    lonTicks.forEach(function(lon, i){
      const lb = make('text', g);
      
      
      lb.setAttribute('x', xScale(lon, x0) - 1); lb.setAttribute('y', y0 + PANEL_H + 55); lb.setAttribute('font-size', '34');
      lb.setAttribute('text-anchor', 'middle');
      lb.textContent = lonTickLabels[i];
    });
  }
});

const cb = document.getElementById('colorbar');
const cbX = 229, cbY = 1002, cbW = 604 / 11, cbH = 24;
bandColors.forEach(function(color, i){
  const r = make('rect', cb);
  
  
  r.setAttribute('x', cbX + i * cbW); r.setAttribute('y', cbY); r.setAttribute('width', cbW); r.setAttribute('height', cbH);
  r.setAttribute('fill', color); r.setAttribute('stroke', '#000'); r.setAttribute('stroke-width', '1.4');
});
colorbarLabels.forEach(function(label, i){
  const t = make('text', cb);
  
  
  t.setAttribute('x', cbX + (i + 1) * cbW + 1); t.setAttribute('y', 1055); t.setAttribute('font-size', '30');
  t.setAttribute('text-anchor', 'middle');
  t.textContent = label;
});
</script>
</body>
</html>
